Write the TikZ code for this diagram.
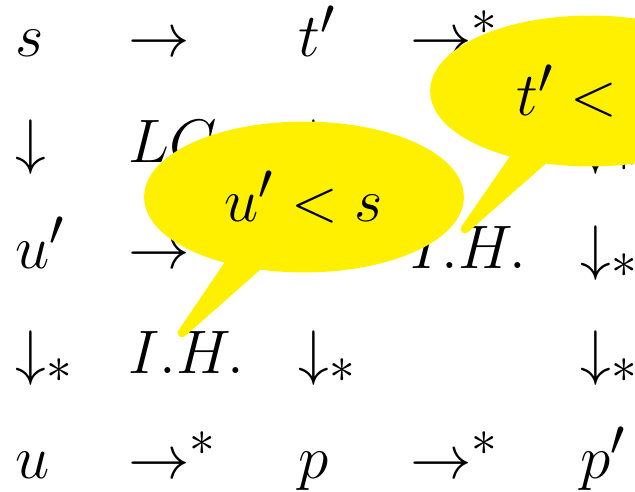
\documentclass[tikz,border=0pt]{standalone}
\usetikzlibrary{shapes.callouts}
\definecolor{callcol}{RGB}{255,240,0}
\begin{document}
\begin{tikzpicture}[x=0.405pt,y=-0.405pt,
  cell/.style={anchor=base west, inner sep=0pt, font=\Huge},
  bubble/.style={ellipse callout, fill=callcol, draw=callcol, line width=3.5pt,
    line join=round, minimum width=126pt, minimum height=57.6pt, inner sep=0pt,
    font=\Huge, callout pointer arc=11}]
\clip (0,0) rectangle (635,491);
% row 1
\node[cell] (r1c1) at (15,57) {$s$};
\node[cell] (r1c2) at (128,57) {$\rightarrow$};
\node[cell] (r1c3) at (298,57) {$t'$};
\node[cell] (r1c4) at (410,57) {$\rightarrow^*$};
% row 2
\node[cell] (r2c1) at (15,162) {$\downarrow$};
\node[cell] (r2c2) at (128,162) {$LC$};
\node[cell] (r2c3) at (298,162) {$\downarrow$};
\node[cell] (r2c5) at (580,162) {$\downarrow_*$};
% row 3
\node[cell] (r3c1) at (15,268) {$u'$};
\node[cell] (r3c2) at (128,268) {$\rightarrow$};
\node[cell] (r3c4) at (410,268) {$I.H.$};
\node[cell] (r3c5) at (580,268) {$\downarrow_*$};
% row 4
\node[cell] (r4c1) at (15,373) {$\downarrow_*$};
\node[cell] (r4c2) at (128,373) {$I.H.$};
\node[cell] (r4c3) at (298,373) {$\downarrow_*$};
\node[cell] (r4c5) at (580,373) {$\downarrow_*$};
% row 5
\node[cell] (r5c1) at (15,478) {$u$};
\node[cell] (r5c2) at (128,478) {$\rightarrow^*$};
\node[cell] (r5c3) at (298,478) {$p$};
\node[cell] (r5c4) at (410,478) {$\rightarrow^*$};
\node[cell] (r5c5) at (580,478) {$p'$};
% callouts
\coordinate (tip1) at (182,333);
\coordinate (tip2) at (465,229);
\node[bubble, callout absolute pointer={(tip1)}] (call1) at (304,197) {$u' < s$};
\node[bubble, callout absolute pointer={(tip2)}] (call2) at (590,91) {$t' < s$};
\end{tikzpicture}
\end{document}
